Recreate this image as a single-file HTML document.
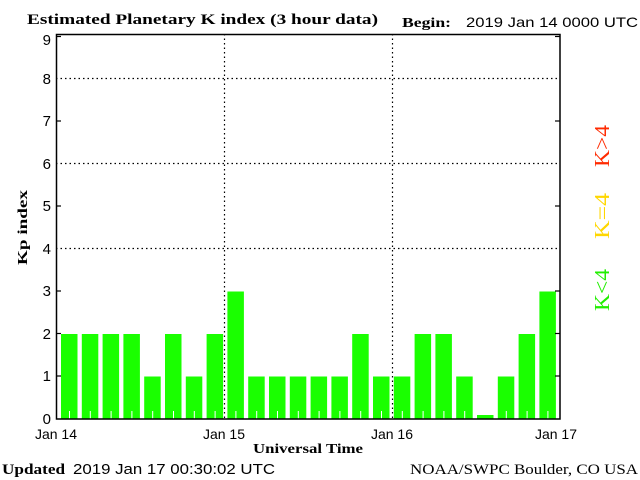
<!DOCTYPE html>
<html><head><style>body{margin:0;background:#fff}svg{display:block}</style></head><body>
<svg width="640" height="480" xmlns="http://www.w3.org/2000/svg" font-family="Liberation Sans, sans-serif">
<rect width="640" height="480" fill="#fff"/>
<text x="27" y="24" font-family="Liberation Serif, serif" font-weight="bold" font-size="15" textLength="351" lengthAdjust="spacingAndGlyphs">Estimated Planetary K index (3 hour data)</text>
<text x="402" y="27" font-family="Liberation Serif, serif" font-weight="bold" font-size="14" textLength="49" lengthAdjust="spacingAndGlyphs">Begin:</text>
<text x="466" y="27" font-size="14" textLength="172" lengthAdjust="spacingAndGlyphs">2019 Jan 14 0000 UTC</text>
<g stroke="#000" stroke-width="1.2" stroke-dasharray="1.5,3">
<line x1="56" y1="78.5" x2="560" y2="78.5"/><line x1="56" y1="163.5" x2="560" y2="163.5"/><line x1="56" y1="248.5" x2="560" y2="248.5"/>
<line x1="224.5" y1="34" x2="224.5" y2="419"/><line x1="392.5" y1="34" x2="392.5" y2="419"/>
</g>
<g fill="#1aff00">
<rect x="61" y="334" width="16.5" height="85"/><rect x="81.8" y="334" width="16.5" height="85"/><rect x="102.6" y="334" width="16.5" height="85"/><rect x="123.4" y="334" width="16.5" height="85"/>
<rect x="144.2" y="376.5" width="16.5" height="42.5"/><rect x="165" y="334" width="16.5" height="85"/><rect x="185.8" y="376.5" width="16.5" height="42.5"/><rect x="206.6" y="334" width="16.5" height="85"/>
<rect x="227.4" y="291.5" width="16.5" height="127.5"/><rect x="248.2" y="376.5" width="16.5" height="42.5"/><rect x="269" y="376.5" width="16.5" height="42.5"/><rect x="289.8" y="376.5" width="16.5" height="42.5"/>
<rect x="310.6" y="376.5" width="16.5" height="42.5"/><rect x="331.4" y="376.5" width="16.5" height="42.5"/><rect x="352.2" y="334" width="16.5" height="85"/><rect x="373" y="376.5" width="16.5" height="42.5"/>
<rect x="393.8" y="376.5" width="16.5" height="42.5"/><rect x="414.6" y="334" width="16.5" height="85"/><rect x="435.4" y="334" width="16.5" height="85"/><rect x="456.2" y="376.5" width="16.5" height="42.5"/>
<rect x="477" y="415" width="16.5" height="4"/><rect x="497.8" y="376.5" width="16.5" height="42.5"/><rect x="518.6" y="334" width="16.5" height="85"/><rect x="539.4" y="291.5" width="16.5" height="127.5"/>
</g>
<g stroke="#fff" stroke-width="1">
<line x1="69.5" y1="411" x2="69.5" y2="419"/><line x1="90.3" y1="411" x2="90.3" y2="419"/><line x1="111.1" y1="411" x2="111.1" y2="419"/><line x1="131.9" y1="411" x2="131.9" y2="419"/>
<line x1="152.7" y1="411" x2="152.7" y2="419"/><line x1="173.5" y1="411" x2="173.5" y2="419"/><line x1="194.3" y1="411" x2="194.3" y2="419"/><line x1="215.1" y1="411" x2="215.1" y2="419"/>
<line x1="235.9" y1="411" x2="235.9" y2="419"/><line x1="256.7" y1="411" x2="256.7" y2="419"/><line x1="277.5" y1="411" x2="277.5" y2="419"/><line x1="298.3" y1="411" x2="298.3" y2="419"/>
<line x1="319.1" y1="411" x2="319.1" y2="419"/><line x1="339.9" y1="411" x2="339.9" y2="419"/><line x1="360.7" y1="411" x2="360.7" y2="419"/><line x1="381.5" y1="411" x2="381.5" y2="419"/>
<line x1="402.3" y1="411" x2="402.3" y2="419"/><line x1="423.1" y1="411" x2="423.1" y2="419"/><line x1="443.9" y1="411" x2="443.9" y2="419"/><line x1="464.7" y1="411" x2="464.7" y2="419"/>
<line x1="506.3" y1="411" x2="506.3" y2="419"/><line x1="527.1" y1="411" x2="527.1" y2="419"/><line x1="547.9" y1="411" x2="547.9" y2="419"/>
</g>
<g font-size="15" text-anchor="end" fill="#000">
<text x="51" y="45">9</text><text x="51" y="84">8</text><text x="51" y="126">7</text><text x="51" y="169">6</text><text x="51" y="211">5</text><text x="51" y="254">4</text><text x="51" y="296">3</text><text x="51" y="339">2</text><text x="51" y="381">1</text><text x="51" y="424">0</text>
</g>
<g font-size="14" text-anchor="middle">
<text x="56" y="439">Jan 14</text><text x="224" y="439">Jan 15</text><text x="392" y="439">Jan 16</text><text x="556" y="439">Jan 17</text>
</g>
<text x="253" y="453" font-family="Liberation Serif, serif" font-weight="bold" font-size="14" textLength="110" lengthAdjust="spacingAndGlyphs">Universal Time</text>
<text transform="translate(27,265) rotate(-90)" font-family="Liberation Serif, serif" font-weight="bold" font-size="14" textLength="75" lengthAdjust="spacingAndGlyphs">Kp index</text>
<text x="2" y="474" font-family="Liberation Serif, serif" font-weight="bold" font-size="15" textLength="63" lengthAdjust="spacingAndGlyphs">Updated</text>
<text x="73" y="474" font-size="15" textLength="202" lengthAdjust="spacingAndGlyphs">2019 Jan 17 00:30:02 UTC</text>
<text x="410" y="474" font-family="Liberation Serif, serif" font-size="15" textLength="228" lengthAdjust="spacingAndGlyphs">NOAA/SWPC Boulder, CO USA</text>
<g font-family="Liberation Serif, serif" font-size="21">
<text transform="translate(609,167) rotate(-90)" fill="#ff2a00" textLength="42" lengthAdjust="spacingAndGlyphs">K&gt;4</text>
<text transform="translate(609,239) rotate(-90)" fill="#ffd700" textLength="46" lengthAdjust="spacingAndGlyphs">K=4</text>
<text transform="translate(609,311) rotate(-90)" fill="#22ee00" textLength="42" lengthAdjust="spacingAndGlyphs">K&lt;4</text>
</g>
<rect x="56.5" y="34.5" width="503.5" height="384.5" fill="none" stroke="#000" stroke-width="1.5"/>
<g stroke="#000" stroke-width="1.2">
<line x1="56" y1="36.5" x2="61" y2="36.5"/><line x1="555" y1="36.5" x2="560" y2="36.5"/>
<line x1="56" y1="121" x2="61" y2="121"/><line x1="555" y1="121" x2="560" y2="121"/>
<line x1="56" y1="206" x2="61" y2="206"/><line x1="555" y1="206" x2="560" y2="206"/>
<line x1="56" y1="291" x2="61" y2="291"/><line x1="555" y1="291" x2="560" y2="291"/>
<line x1="56" y1="376" x2="61" y2="376"/><line x1="555" y1="376" x2="560" y2="376"/>
<line x1="56" y1="333.5" x2="61" y2="333.5"/><line x1="555" y1="333.5" x2="560" y2="333.5"/>
</g>
</svg>
</body></html>
